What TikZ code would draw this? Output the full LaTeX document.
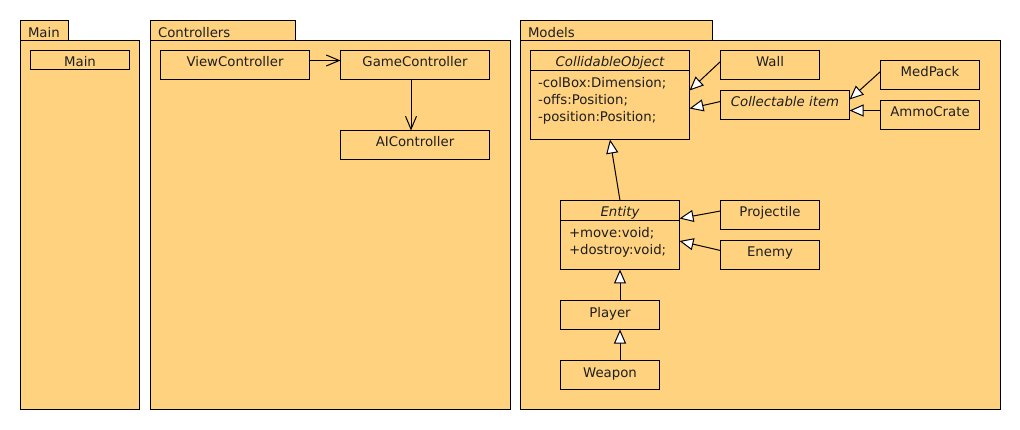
\documentclass[tikz,border=0pt]{standalone}
\usepackage{fontspec}
\setmainfont{DejaVu Sans}
\usetikzlibrary{arrows.meta,calc}
\definecolor{pkgfill}{HTML}{FFD280}
\definecolor{txt}{HTML}{1E1E1E}
\begin{document}
\begin{tikzpicture}[x=1pt,y=-1pt,line width=1pt,
  font=\fontsize{13.3}{16}\selectfont,
  box/.style={draw,fill=pkgfill,inner sep=0,outer sep=0,minimum width=#1},
  h/.style={minimum height=#1},
  lbl/.style={anchor=base,inner sep=0,text=txt},
  attr/.style={anchor=base west,inner sep=0,text=txt},
  dep/.style={-{Straight Barb[length=13pt,width=11pt]}},
  inh/.style={-{Triangle[length=14pt,width=12pt,fill=white]}}]
\useasboundingbox (-0.5,-0.5) rectangle (1019.5,429.5);
% packages
\node[box=48pt,h=20pt] (maintab) at (44,30) {};
\node[box=119pt,h=369pt] (mainpkg) at (79.5,224.5) {};
\node[box=145pt,h=20pt] (ctrltab) at (222.5,30) {};
\node[box=360pt,h=369pt] (ctrlpkg) at (330,224.5) {};
\node[box=192pt,h=20pt] (modtab) at (616,30) {};
\node[box=480pt,h=369pt] (modpkg) at (760,224.5) {};
\node[attr] (tmaintab) at ($(maintab.north west)+(7,17)$) {Main};
\node[attr] (tctrltab) at ($(ctrltab.north west)+(7,17)$) {Controllers};
\node[attr] (tmodtab) at ($(modtab.north west)+(7,17)$) {Models};
% Main package
\node[box=99pt,h=19pt] (mainc) at (79.5,59.5) {};
\node[lbl] (tmainc) at ($(mainc.north)+(0,16.5)$) {Main};
% Controllers
\node[box=149pt,h=29pt] (vc) at (234.5,64.5) {};
\node[lbl] (tvc) at ($(vc.north)+(0,16.5)$) {ViewController};
\node[box=149pt,h=29pt] (gc) at (414.5,64.5) {};
\node[lbl] (tgc) at ($(gc.north)+(0,16.5)$) {GameController};
\node[box=149pt,h=29pt] (ai) at (414.5,144.5) {};
\node[lbl] (tai) at ($(ai.north)+(0,16.5)$) {AIController};
% Models
\node[box=159pt,h=89pt] (co) at (609.5,94.5) {};
\node[lbl] (tco) at ($(co.north)+(0,16.5)$) {\itshape CollidableObject};
\draw ($(co.north west)+(0,20)$) -- ($(co.north east)+(0,20)$);
\node[attr] (co1) at ($(co.north west)+(7,37)$) {-colBox:Dimension;};
\node[attr] (co2) at ($(co.north west)+(7,54)$) {-offs:Position;};
\node[attr] (co3) at ($(co.north west)+(7,71)$) {-position:Position;};
\node[box=99pt,h=29pt] (wall) at (769.5,64.5) {};
\node[lbl] (twall) at ($(wall.north)+(0,16.5)$) {Wall};
\node[box=129pt,h=29pt] (ci) at (784.5,104.5) {};
\node[lbl] (tci) at ($(ci.north)+(0,16.5)$) {\itshape Collectable item};
\node[box=99pt,h=29pt] (med) at (929.5,74.5) {};
\node[lbl] (tmed) at ($(med.north)+(0,16.5)$) {MedPack};
\node[box=99pt,h=29pt] (ammo) at (929.5,114.5) {};
\node[lbl] (tammo) at ($(ammo.north)+(0,16.5)$) {AmmoCrate};
\node[box=119pt,h=69pt] (ent) at (619.5,234.5) {};
\node[lbl] (tent) at ($(ent.north)+(0,16.5)$) {\itshape Entity};
\draw ($(ent.north west)+(0,20)$) -- ($(ent.north east)+(0,20)$);
\node[attr] (e1) at ($(ent.north west)+(8,37)$) {+move:void;};
\node[attr] (e2) at ($(ent.north west)+(8,54)$) {+dostroy:void;};
\node[box=99pt,h=29pt] (proj) at (769.5,214.5) {};
\node[lbl] (tproj) at ($(proj.north)+(0,16.5)$) {Projectile};
\node[box=99pt,h=29pt] (enemy) at (769.5,254.5) {};
\node[lbl] (tenemy) at ($(enemy.north)+(0,16.5)$) {Enemy};
\node[box=99pt,h=29pt] (pl) at (609.5,314.5) {};
\node[lbl] (tpl) at ($(pl.north)+(0,16.5)$) {Player};
\node[box=99pt,h=29pt] (wp) at (609.5,374.5) {};
\node[lbl] (twp) at ($(wp.north)+(0,16.5)$) {Weapon};
% connectors
\draw[dep] ($(vc.north east)+(0,10)$) -- ($(gc.north west)+(0,10)$);
\draw[dep] ($(gc.south)+(-4,0)$) -- ($(ai.north)+(-4,0)$);
\draw[inh] ($(wall.north west)+(0,11)$) -- ($(co.north east)+(0,40)$);
\draw[inh] ($(ci.north west)+(0,11)$) -- ($(co.north east)+(0,58)$);
\draw[inh] ($(med.north west)+(0,11)$) -- ($(ci.north east)+(0,9)$);
\draw[inh] ($(ammo.north west)+(0,10)$) -- ($(ci.north east)+(0,20)$);
\draw[inh] (ent.north) -- (co.south);
\draw[inh] ($(proj.north west)+(0,10.5)$) -- ($(ent.north east)+(0,18)$);
\draw[inh] ($(enemy.north west)+(0,10)$) -- ($(ent.north east)+(0,40.5)$);
\draw[inh] (ent.south |- pl.north) -- (ent.south);
\draw[inh] (ent.south |- wp.north) -- (ent.south |- pl.south);
\end{tikzpicture}
\end{document}
